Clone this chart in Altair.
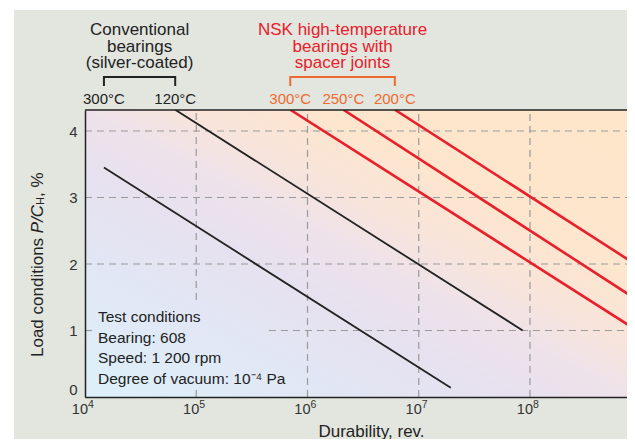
import altair as alt
import pandas as pd
import numpy as np

# ---------------- data ----------------
conv_labels = ["300°C", "120°C"]
conv_start_rev = [1.48e4, 6.47e4]
conv_start_load = [3.45, 4.32]
conv_end_rev = [1.94e7, 8.6e7]
conv_end_load = [0.14, 1.0]

nsk_labels = ["300°C", "250°C", "200°C"]
nsk_start_rev = [7.0e5, 2.1e6, 6.1e6]
nsk_start_load = [4.32, 4.32, 4.32]
nsk_end_rev = [1e9, 1e9, 1e9]
nsk_end_load = [0.96, 1.42, 1.94]

x_ticks = [1e4, 1e5, 1e6, 1e7, 1e8]
x_tick_base = ["10", "10", "10", "10", "10"]
x_tick_exp = ["4", "5", "6", "7", "8"]
y_ticks = [0, 1, 2, 3, 4]

x_domain = [1e4, 7.45e8]
y_domain = [0, 4.316]

# dashed grid lines (partly hidden behind the test-conditions note)
hgrid_y = [1, 2, 3, 4]
hgrid_x0 = [4.5e5, 1e4, 1e4, 1e4]
vgrid_x = [1e5, 1e6, 1e7, 1e8]
vgrid_y0 = [1.46, 0, 0, 0]

conv_title = ["Conventional", "bearings", "(silver-coated)"]
nsk_title = ["NSK high-temperature", "bearings with", "spacer joints"]
note_lines = ["Test conditions", "Bearing: 608", "Speed: 1 200 rpm",
              "Degree of vacuum: 10⁻⁴ Pa"]

FONT = "Liberation Sans"
BLACK = "#222222"
RED = "#e8202b"
ORANGE = "#ef6a30"
PAGE_GREY = "#e2e6df"
W, H = 542, 287

# ---------------- frames ----------------
def seg_frame(labels, s_rev, s_load, e_rev, e_load):
    rows = []
    for lab, a, b, c, d in zip(labels, s_rev, s_load, e_rev, e_load):
        rows.append({"series": lab, "rev": a, "load": b, "o": 0})
        rows.append({"series": lab, "rev": c, "load": d, "o": 1})
    return pd.DataFrame(rows)

conv_df = seg_frame(conv_labels, conv_start_rev, conv_start_load, conv_end_rev, conv_end_load)
nsk_df = seg_frame(nsk_labels, nsk_start_rev, nsk_start_load, nsk_end_rev, nsk_end_load)

xs = alt.Scale(type="log", domain=x_domain, nice=False)
ys = alt.Scale(domain=y_domain, nice=False, zero=False)

x_axis = alt.Axis(values=x_ticks, labels=False, grid=False, ticks=False, zindex=2,
                  domainColor=BLACK, domainWidth=1.5, title="Durability, rev.",
                  titleFont=FONT, titleFontSize=17, titleFontWeight="normal", titleColor=BLACK,
                  titleX=286, titleY=34, titleBaseline="middle", titleAlign="center")
y_axis = alt.Axis(values=y_ticks, format="d", grid=False, ticks=False, zindex=2,
                  domainColor=BLACK, domainWidth=1.5, labelFont=FONT, labelFontSize=15,
                  labelColor="#333333", labelPadding=8, labelFlush=True, title=None)

# grey page panel (starts a little inside the page like the reference)
panel = alt.Chart(pd.DataFrame({"k": [0]})).mark_rect(color=PAGE_GREY, clip=False).encode(
    x=alt.value(-71), x2=alt.value(W + 5), y=alt.value(-100), y2=alt.value(H + 50))

gradient = alt.LinearGradient(
    gradient="linear", x1=0, y1=1, x2=1, y2=0,
    stops=[
        alt.GradientStop(offset=0.0, color="#dcf1fa"),
        alt.GradientStop(offset=0.25, color="#e2e6f4"),
        alt.GradientStop(offset=0.4, color="#e7e1ef"),
        alt.GradientStop(offset=0.5, color="#eee2ea"),
        alt.GradientStop(offset=0.6, color="#f8e4da"),
        alt.GradientStop(offset=0.72, color="#fde6cd"),
        alt.GradientStop(offset=1.0, color="#fee6ca"),
    ])

bg = alt.Chart(pd.DataFrame({"x0": [x_domain[0]], "x1": [x_domain[1]],
                             "y0": [y_domain[0]], "y1": [y_domain[1]]})).mark_rect(
    color=gradient, strokeWidth=0).encode(
    x=alt.X("x0:Q", scale=xs, axis=x_axis), x2="x1:Q",
    y=alt.Y("y0:Q", scale=ys, axis=y_axis), y2="y1:Q")

hgrid_df = pd.DataFrame({"y": hgrid_y, "x0": hgrid_x0, "x1": [x_domain[1]] * 4})
vgrid_df = pd.DataFrame({"x": vgrid_x, "y0": vgrid_y0, "y1": [y_domain[1]] * 4})

hgrid = alt.Chart(hgrid_df).mark_rule(color="#9a9a9a", strokeDash=[7, 5], strokeWidth=1.2).encode(
    x=alt.X("x0:Q", scale=xs), x2="x1:Q", y=alt.Y("y:Q", scale=ys))
vgrid = alt.Chart(vgrid_df).mark_rule(color="#9a9a9a", strokeDash=[7, 5], strokeWidth=1.2).encode(
    x=alt.X("x:Q", scale=xs), y=alt.Y("y0:Q", scale=ys), y2="y1:Q")

# small inward ticks where grid lines are hidden
tick_y = alt.Chart(pd.DataFrame({"y": [1]})).mark_rule(color="#9a9a9a", strokeWidth=1.2).encode(
    y=alt.Y("y:Q", scale=ys), x=alt.value(0), x2=alt.value(7))
tick_x = alt.Chart(pd.DataFrame({"x": [1e5]})).mark_rule(color="#9a9a9a", strokeWidth=1.2).encode(
    x=alt.X("x:Q", scale=xs), y=alt.value(H - 7), y2=alt.value(H))

top_border = alt.Chart(pd.DataFrame({"x": [x_domain[0]], "x1": [x_domain[1]]})).mark_rule(
    color=BLACK, strokeWidth=1.5).encode(x=alt.X("x:Q", scale=xs), x2="x1:Q", y=alt.value(0))

conv_lines = alt.Chart(conv_df).mark_line(color=BLACK, strokeWidth=1.8, clip=True).encode(
    x=alt.X("rev:Q", scale=xs), y=alt.Y("load:Q", scale=ys), detail="series:N", order="o:Q")
nsk_lines = alt.Chart(nsk_df).mark_line(color=RED, strokeWidth=2.6, clip=True).encode(
    x=alt.X("rev:Q", scale=xs), y=alt.Y("load:Q", scale=ys), detail="series:N", order="o:Q")

# x tick labels as 10 with a raised exponent
tick_df = pd.DataFrame({"rev": x_ticks, "base": x_tick_base, "exp": x_tick_exp})
tick_base = alt.Chart(tick_df).mark_text(font=FONT, fontSize=14.5, color="#333333",
                                          align="right", baseline="middle", dx=3).encode(
    x=alt.X("rev:Q", scale=xs), y=alt.value(H + 13), text="base:N")
tick_exp = alt.Chart(tick_df).mark_text(font=FONT, fontSize=10.5, color="#333333",
                                         align="left", baseline="middle", dx=3).encode(
    x=alt.X("rev:Q", scale=xs), y=alt.value(H + 8), text="exp:N")

def gmean(v):
    return float(np.exp(np.mean(np.log([min(v), max(v)]))))

def group_annot(labels, starts, title, tcolor, bcolor):
    lab_df = pd.DataFrame({"rev": starts, "label": labels})
    labs = alt.Chart(lab_df).mark_text(font=FONT, fontSize=15, color=bcolor, align="center",
                                       baseline="middle").encode(
        x=alt.X("rev:Q", scale=xs), y=alt.value(-11), text="label:N")
    br_df = pd.DataFrame({"a": [min(starts)], "b": [max(starts)]})
    hbar = alt.Chart(br_df).mark_rule(color=bcolor, strokeWidth=2).encode(
        x=alt.X("a:Q", scale=xs), x2="b:Q", y=alt.value(-33))
    vbar = alt.Chart(pd.DataFrame({"r": [min(starts), max(starts)]})).mark_rule(
        color=bcolor, strokeWidth=2).encode(
        x=alt.X("r:Q", scale=xs), y=alt.value(-34), y2=alt.value(-24))
    ttl = alt.Chart(pd.DataFrame({"rev": [gmean(starts)]})).mark_text(
        font=FONT, fontSize=17, color=tcolor, align="center", baseline="middle",
        lineHeight=16.5, text=title).encode(x=alt.X("rev:Q", scale=xs), y=alt.value(-80))
    return [labs, hbar, vbar, ttl]

conv_annot = group_annot(conv_labels, [conv_start_rev[0], conv_start_rev[1]], conv_title, BLACK, BLACK)
nsk_annot = group_annot(nsk_labels, nsk_start_rev, nsk_title, RED, ORANGE)

note = alt.Chart(pd.DataFrame({"rev": [x_domain[0]]})).mark_text(
    font=FONT, fontSize=15.5, color=BLACK, align="left", baseline="middle",
    lineHeight=20.7, text=note_lines, dx=13).encode(
    x=alt.X("rev:Q", scale=xs), y=alt.value(207))

# composite y-axis title: Load conditions P/C_H, %
ytitle_parts = [
    ("Load conditions ", 17, "normal", -47, 247),
    ("P/C", 17, "italic", -47, 123.2),
    ("H", 11, "normal", -44, 94.9),
    (", %", 17, "normal", -47, 87.0),
]
ytitle_layers = []
for txt, fs, st, px, py in ytitle_parts:
    ytitle_layers.append(
        alt.Chart(pd.DataFrame({"t": [txt]})).mark_text(
            font=FONT, fontSize=fs, fontStyle=st, color=BLACK, angle=270,
            align="left", baseline="middle").encode(
            text="t:N", x=alt.value(px), y=alt.value(py)))

chart = alt.layer(
    panel, bg, hgrid, vgrid, tick_y, tick_x, conv_lines, nsk_lines, top_border,
    tick_base, tick_exp, *conv_annot, *nsk_annot, note, *ytitle_layers
).properties(
    width=W, height=H,
    autosize=alt.AutoSizeParams(type="none"),
    padding={"left": 77, "top": 102, "right": 0, "bottom": 42},
    background="#ffffff",
).configure_view(stroke=None)

chart.save("out.html", embed_options={"renderer": "svg", "actions": False})
